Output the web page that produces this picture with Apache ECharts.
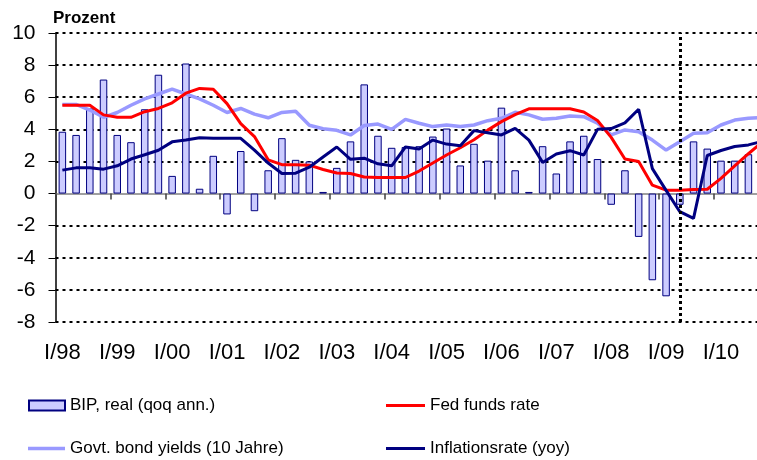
<!DOCTYPE html>
<html><head><meta charset="utf-8">
<script src="https://cdn.jsdelivr.net/npm/echarts@6/dist/echarts.min.js"></script>
<style>html,body{margin:0;padding:0;background:#fff;overflow:hidden;width:757px;height:460px}#c{width:769px;height:460px}</style>
</head><body><div id="c"></div>
<script>
const categories = [
 "I/98","II/98","III/98","IV/98","I/99","II/99","III/99","IV/99",
 "I/00","II/00","III/00","IV/00","I/01","II/01","III/01","IV/01",
 "I/02","II/02","III/02","IV/02","I/03","II/03","III/03","IV/03",
 "I/04","II/04","III/04","IV/04","I/05","II/05","III/05","IV/05",
 "I/06","II/06","III/06","IV/06","I/07","II/07","III/07","IV/07",
 "I/08","II/08","III/08","IV/08","I/09","II/09","III/09","IV/09",
 "I/10","II/10","III/10","IV/10"
];
const bip = [
 3.85,3.65,5.3,7.1, 3.65,3.2,5.25,7.4, 1.1,8.1,0.3,2.35, -1.3,2.65,-1.1,1.45,
 3.45,2.1,2.0,0.1, 1.6,3.25,6.8,3.6, 2.85,2.9,2.95,3.55, 4.05,1.75,3.1,2.05,
 5.35,1.45,0.1,2.95, 1.25,3.25,3.6,2.15, -0.7,1.45,-2.7,-5.4, -6.4,-0.7,3.25,2.8,
 2.05,2.05,2.45,2.6
];
const fedFunds = [
 5.5,5.5,5.5,4.9, 4.75,4.75,5.1,5.3, 5.65,6.25,6.55,6.5, 5.6,4.35,3.55,2.1,
 1.8,1.8,1.77,1.5, 1.28,1.25,1.03,1.0, 1.0,1.0,1.4,1.9, 2.4,2.85,3.35,3.95,
 4.48,4.92,5.28,5.28, 5.28,5.28,5.08,4.55, 3.5,2.15,2.0,0.52, 0.21,0.21,0.25,0.27,
 0.95,1.72,2.48,3.2
];
const bondYields = [
 5.55,5.55,5.2,4.75, 5.05,5.5,5.9,6.2, 6.5,6.2,5.9,5.5, 5.05,5.3,4.95,4.72,
 5.05,5.12,4.25,4.04, 3.94,3.65,4.24,4.33, 4.0,4.62,4.38,4.17, 4.27,4.17,4.27,4.54,
 4.69,5.06,4.9,4.63, 4.69,4.83,4.79,4.38, 3.65,3.96,3.85,3.33, 2.71,3.23,3.75,3.79,
 4.27,4.58,4.69,4.73
];
const inflation = [
 1.46,1.6,1.6,1.52, 1.73,2.15,2.42,2.7, 3.22,3.33,3.48,3.44, 3.44,3.44,2.7,1.9,
 1.25,1.27,1.64,2.28, 2.9,2.13,2.2,1.85, 1.73,2.9,2.77,3.33, 3.08,2.98,3.92,3.79,
 3.65,4.06,3.33,1.94, 2.46,2.67,2.4,4.0, 4.05,4.4,5.25,1.55, 0.2,-1.13,-1.55,2.37,
 2.68,2.93,3.03,3.25
];
const yMin = -8, yMax = 10, yInterval = 2;
const forecastMark = "II/09";
const names = ["BIP, real (qoq ann.)","Fed funds rate","Govt. bond yields (10 Jahre)","Inflationsrate (yoy)"];

const FONT = "'Liberation Sans', Arial, sans-serif";
const splitColors = [];
for (let v = yMin; v <= yMax; v += yInterval) splitColors.push(v === 0 ? 'rgba(0,0,0,0)' : '#000');

const chart = echarts.init(document.getElementById('c'), null, {renderer:'canvas'});
const legendBase = {padding:0, itemGap:0, textStyle:{fontSize:17, fontFamily:FONT, color:'#000'}, selectedMode:false};
chart.setOption({
  animation:false,
  backgroundColor:'#fff',
  textStyle:{fontFamily:FONT},
  grid:{left:55.5, top:33, right:0, height:289},
  xAxis:[
    {type:'category', data:categories, boundaryGap:true, position:'bottom',
     axisLine:{onZero:true, lineStyle:{color:'#808080', width:1.5}},
     axisTick:{show:true, interval:3, length:6, lineStyle:{color:'#404040', width:1.5}},
     axisLabel:{show:false}, splitLine:{show:false}},
    {type:'category', data:categories, boundaryGap:true, position:'bottom',
     axisLine:{show:false, onZero:false}, axisTick:{show:false},
     axisLabel:{interval:3, margin:20, fontSize:22, color:'#000', fontFamily:FONT},
     splitLine:{show:false}}
  ],
  yAxis:{type:'value', min:yMin, max:yMax, interval:yInterval,
    axisLine:{show:true, lineStyle:{color:'#000', width:1.5}},
    axisTick:{show:true, length:7, lineStyle:{color:'#000', width:1}},
    axisLabel:{fontSize:21, margin:20, color:'#000', fontFamily:FONT},
    splitLine:{show:true, lineStyle:{color:splitColors, type:[3,4], width:2}}},
  legend:[
    Object.assign({data:[names[0]], left:28, top:397, itemWidth:36, itemHeight:10, icon:'rect'}, legendBase),
    Object.assign({data:[names[1]], left:386, top:397, itemWidth:39, itemHeight:3, icon:'rect'}, legendBase),
    Object.assign({data:[names[2]], left:28, top:440, itemWidth:37, itemHeight:3.5, icon:'rect'}, legendBase),
    Object.assign({data:[names[3]], left:386, top:440, itemWidth:39, itemHeight:3, icon:'rect'}, legendBase)
  ],
  graphic:[{type:'text', left:53, top:10, style:{text:'Prozent', font:"bold 17px 'Liberation Sans', Arial", fill:'#000'}}],
  series:[
    {name:names[0], type:'bar', data:bip, barWidth:7.5,
     itemStyle:{color:'#CCCCFF', borderColor:'#000080', borderWidth:1},
     markLine:{silent:true, symbol:'none', label:{show:false},
       lineStyle:{color:'#000', type:[3,3], width:3},
       data:[{xAxis:forecastMark}]}},
    {name:names[2], type:'line', data:bondYields, symbol:'none', color:'#9999FF',
     lineStyle:{color:'#9999FF', width:3.5}, itemStyle:{color:'#9999FF'}},
    {name:names[1], type:'line', data:fedFunds, symbol:'none', color:'#FF0000',
     lineStyle:{color:'#FF0000', width:3}, itemStyle:{color:'#FF0000'}},
    {name:names[3], type:'line', data:inflation, symbol:'none', color:'#000080',
     lineStyle:{color:'#000080', width:3}, itemStyle:{color:'#000080'}}
  ]
});
</script></body></html>
